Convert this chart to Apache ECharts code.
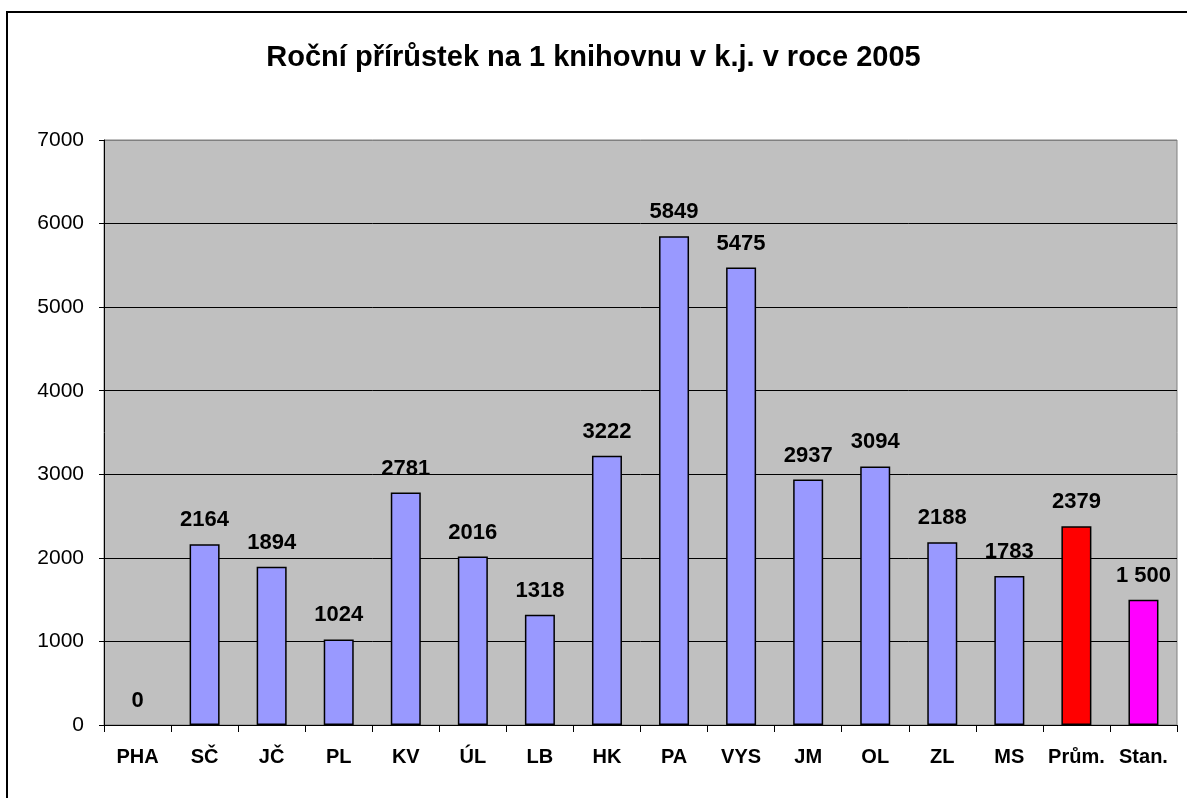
<!DOCTYPE html>
<html>
<head>
<meta charset="utf-8">
<script src="https://cdn.jsdelivr.net/npm/echarts@6/dist/echarts.min.js"></script>
<style>
  html, body { margin: 0; padding: 0; background: #fff; }
  #chart { width: 1187px; height: 798px; }
</style>
</head>
<body>
<div id="chart"></div>
<script>
var categories = ['PHA', 'SČ', 'JČ', 'PL', 'KV', 'ÚL', 'LB', 'HK', 'PA', 'VYS', 'JM', 'OL', 'ZL', 'MS', 'Prům.', 'Stan.'];
var values = [0, 2164, 1894, 1024, 2781, 2016, 1318, 3222, 5849, 5475, 2937, 3094, 2188, 1783, 2379, 1500];
var barColors = ['#9999FF', '#9999FF', '#9999FF', '#9999FF', '#9999FF', '#9999FF', '#9999FF', '#9999FF',
                 '#9999FF', '#9999FF', '#9999FF', '#9999FF', '#9999FF', '#9999FF', '#FF0000', '#FF00FF'];
var yTicks = [0, 1000, 2000, 3000, 4000, 5000, 6000, 7000];

var font = 'Arial, "Liberation Sans", sans-serif';
var chart = echarts.init(document.getElementById('chart'));

chart.setOption({
    animation: false,
    graphic: [{
        type: 'rect',
        shape: { x: 7, y: 12, width: 1200, height: 820 },
        style: { fill: 'none', stroke: '#000', lineWidth: 2 },
        silent: true
    }],
    title: {
        text: 'Roční přírůstek na 1 knihovnu v k.j. v roce 2005',
        left: 'center',
        top: 38,
        textStyle: { fontFamily: font, fontSize: 29, fontWeight: 'bold', color: '#000' }
    },
    grid: { // plot area, same place as in the picture
        left: 104,
        top: 140,
        width: 1073,
        height: 585,
        show: true,
        backgroundColor: '#C0C0C0',
        borderColor: '#808080',
        borderWidth: 1
    },
    xAxis: {
        type: 'category',
        data: categories,
        axisLine: { lineStyle: { color: '#000', width: 1 } },
        axisTick: { show: true, interval: 0, length: 7, inside: false, lineStyle: { color: '#000' } },
        axisLabel: {
            interval: 0,
            margin: 22,
            fontFamily: font,
            fontSize: 20,
            fontWeight: 'bold',
            color: '#000'
        },
        splitLine: { show: false }
    },
    yAxis: {
        type: 'value',
        min: yTicks[0],
        max: yTicks[yTicks.length - 1],
        interval: 1000,
        axisLine: { show: true, lineStyle: { color: '#000', width: 1 } },
        axisTick: { show: true, length: 5, lineStyle: { color: '#000' } },
        axisLabel: {
            margin: 20,
            fontFamily: font,
            fontSize: 21,
            color: '#000',
            formatter: function (v) { return String(v); }
        },
        splitLine: {
            show: true,
            lineStyle: {
                color: ['#000', '#000', '#000', '#000', '#000', '#000', '#000', '#808080'],
                width: 1
            }
        }
    },
    series: [{
        type: 'bar',
        barWidth: 30,
        data: values.map(function (v, i) {
            return {
                value: v,
                itemStyle: { color: barColors[i], borderWidth: v == 0 ? 0 : 1.5 }
            };
        }),
        itemStyle: { borderColor: '#000', borderWidth: 1.5 },
        label: {
            show: true,
            position: 'top',
            distance: 13,
            fontFamily: font,
            fontSize: 22,
            fontWeight: 'bold',
            color: '#000',
            formatter: function (p) {
                if (p.name == 'Stan.') {
                    return '1 500';
                }
                return String(p.value);
            }
        }
    }]
});
</script>
</body>
</html>
